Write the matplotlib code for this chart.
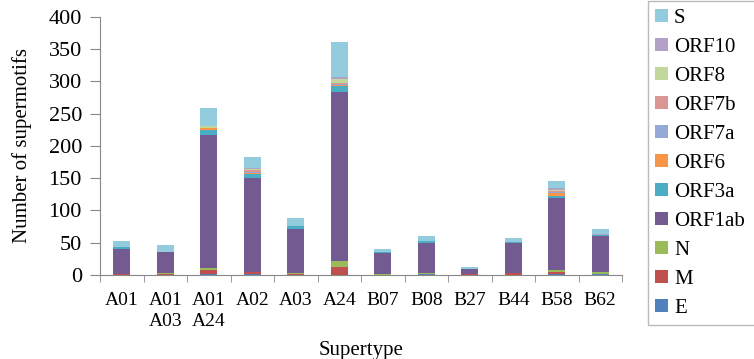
import numpy as np
import matplotlib
matplotlib.use("Agg")
from matplotlib import pyplot as plt

plt.rcParams['font.family'] = ['Liberation Serif', 'DejaVu Serif']

supertypes = ["A01", "A01\nA03", "A01\nA24", "A02", "A03", "A24",
              "B07", "B08", "B27", "B44", "B58", "B62"]

# segments from bottom to top
E      = [0, 0, 2, 2, 0, 0, 0, 1, 0, 0, 1, 2]
M      = [1, 2, 6, 2, 2, 13, 0, 0, 1, 3, 3, 0]
N      = [0, 1, 3, 1, 1, 9, 1, 2, 0, 0, 4, 3]
ORF1ab = [40, 32, 206, 145, 68, 261, 33, 47, 8, 46, 112, 56]
ORF3a  = [3, 1, 8, 6, 5, 9, 1, 2, 1, 2, 3, 1]
ORF6   = [0, 0, 2, 2, 0, 2, 0, 0, 0, 0, 4, 0]
ORF7a  = [0, 0, 0, 2, 0, 2, 0, 0, 0, 0, 1, 0]
ORF7b  = [0, 0, 0, 2, 0, 2, 0, 0, 0, 0, 2, 0]
ORF8   = [0, 0, 3, 2, 0, 5, 0, 0, 0, 0, 1, 0]
ORF10  = [0, 0, 1, 2, 0, 4, 1, 0, 0, 0, 3, 2]
S      = [8, 10, 28, 17, 13, 54, 5, 8, 2, 7, 12, 7]

series = [("E", E, "#4F81BD"), ("M", M, "#C0504D"), ("N", N, "#9BBB59"),
          ("ORF1ab", ORF1ab, "#735A91"), ("ORF3a", ORF3a, "#4BACC6"),
          ("ORF6", ORF6, "#F79646"), ("ORF7a", ORF7a, "#95A9D6"),
          ("ORF7b", ORF7b, "#D99694"), ("ORF8", ORF8, "#C3D69B"),
          ("ORF10", ORF10, "#B3A2C7"), ("S", S, "#93CDDD")]

fig = plt.figure(figsize=(7.54, 3.59), dpi=100)
ax = fig.add_axes([100/754, 1-275/359, 522/754, 258.3/359])

x = np.arange(len(supertypes))
bottom = np.zeros(len(supertypes))
for name, vals, col in series:
    ax.bar(x, vals, 0.39, bottom=bottom, color=col, label=name)
    bottom += np.array(vals)

ax.set_xlim(-0.5, len(supertypes)-0.5)
ax.set_ylim(0, 400)
ax.set_yticks(np.arange(0, 401, 50))
ax.set_xticks(x)
ax.set_xticklabels(supertypes, fontsize=14, linespacing=1.3)
ax.set_xticks(np.arange(-0.5, len(supertypes), 1), minor=True)
ax.tick_params(axis='x', which='major', length=0, pad=12)
ax.tick_params(axis='x', which='minor', length=5, color='#888888', direction='out')
ax.tick_params(axis='y', labelsize=16, length=7, color='#888888', pad=6)
for s in ['top', 'right']:
    ax.spines[s].set_visible(False)
for s in ['left', 'bottom']:
    ax.spines[s].set_color('#888888')
ax.set_ylabel("Number of supermotifs", fontsize=15, labelpad=12)
ax.set_xlabel("Supertype", fontsize=15, labelpad=8)

h, l = ax.get_legend_handles_labels()
leg = fig.legend(h[::-1], l[::-1], loc='lower left', mode='expand',
                 bbox_to_anchor=(648/754, 1-325/359, 0.2, 0.2), fontsize=15,
                 frameon=True, fancybox=False, edgecolor='#AAAAAA',
                 handlelength=0.6, handleheight=0.55, handletextpad=0.3,
                 labelspacing=0.48, borderaxespad=0, borderpad=0.35)
leg.get_frame().set_linewidth(1.0)

fig.savefig("out.png", dpi=100)
